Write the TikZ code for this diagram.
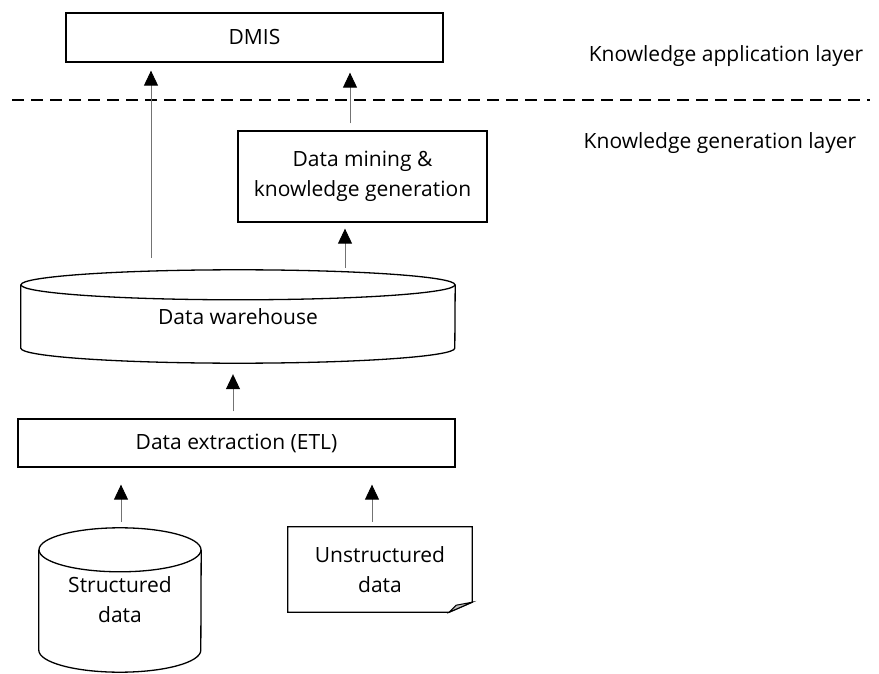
\documentclass[tikz,border=0pt]{standalone}
\usepackage{fontspec}
\setmainfont{Open Sans}
\usetikzlibrary{arrows.meta,calc}

\tikzset{
	box/.style={draw, line width=1.3pt, inner sep=0pt, align=center},
	store/.style={inner sep=0pt, align=center},
	flow/.style={draw=black!55, line width=0.9pt, -{Triangle[width=14pt,length=15pt,color=black]}},
	rim/.style={line width=1.3pt},
}

\begin{document}
\begin{tikzpicture}[x=1pt, y=-1pt, font=\fontsize{21}{30}\selectfont]
			%%%%% START %%%%%
			\useasboundingbox (0,0) rectangle (879,674);
			
			\node[box, minimum width=377pt, minimum height=49pt] (dmis) at (254.5, 37.5) {DMIS};
			\node (applayer) at (726, 56) {Knowledge application layer};
			\node (genlayer) at (720, 143) {Knowledge generation layer};
			
			\draw[line width=1.4pt, dash pattern=on 12pt off 7pt] (12, 100) -- (870, 100);
			
			\node[box, minimum width=249pt, minimum height=91pt] (mining) at (362.5, 176.5) {Data mining \&\\knowledge generation};
			
			% data warehouse
			\node[store, minimum width=434pt, minimum height=63pt] (dw) at (238, 316.5) {Data warehouse};
			\draw[rim] (dw.north west) -- (dw.south west) arc[start angle=180, end angle=360, x radius=217pt, y radius=15pt] -- (dw.north east);
			\draw[rim] (dw.north) ellipse[x radius=217pt, y radius=15pt];
			\coordinate (dwtop) at ($(dw.north)+(0,-15)$);
			\coordinate (dwbase) at ($(dw.south)+(0,15)$);
			
			\node[box, minimum width=437pt, minimum height=48pt] (etl) at (236.5, 443) {Data extraction (ETL)};
			
			% structured data
			\node[store, minimum width=162pt, minimum height=100pt] (sd) at (120, 600) {Structured\\data};
			\draw[rim] (sd.north west) -- (sd.south west) arc[start angle=180, end angle=360, x radius=81pt, y radius=22pt] -- (sd.north east);
			\draw[rim] (sd.north) ellipse[x radius=81pt, y radius=22pt];
			\coordinate (sdtop) at ($(sd.north)+(0,-22)$);
			
			% unstructured data
			\node[store, minimum width=184pt, minimum height=85pt] (ud) at (380, 569.5) {Unstructured\\data};
			\draw[rim] (ud.south west) -- (ud.north west) -- (ud.north east) -- ($(ud.south east)+(0,-10)$) -- ($(ud.south east)+(-23,0)$) -- cycle;
			\draw[line width=1pt, fill=black!25] ($(ud.south east)+(0,-10)$) -- ($(ud.south east)+(-16,-7)$) -- ($(ud.south east)+(-23,0)$) -- cycle;
			
			% arrows
			\draw[flow, shorten <=12pt, shorten >=8pt] ([xshift=-87pt]dwtop) -- ([xshift=-103.5pt]dmis.south);
			\draw[flow, shorten <=7pt, shorten >=10pt] ([xshift=-12.5pt]mining.north) -- ([xshift=95.5pt]dmis.south);
			\draw[flow, shorten <=2pt, shorten >=6pt] ([xshift=107pt]dwtop) -- ([xshift=-17.5pt]mining.south);
			\draw[flow, shorten <=7pt, shorten >=11pt] ([xshift=-3.5pt]etl.north) -- ([xshift=-5pt]dwbase);
			\draw[flow, shorten <=6pt, shorten >=17pt] ([xshift=1pt]sdtop) -- ([xshift=-115.5pt]etl.south);
			\draw[flow, shorten <=5pt, shorten >=17pt] ([xshift=-8pt]ud.north) -- ([xshift=135.5pt]etl.south);
			
			%%%%% END %%%%%
\end{tikzpicture}
\end{document}
